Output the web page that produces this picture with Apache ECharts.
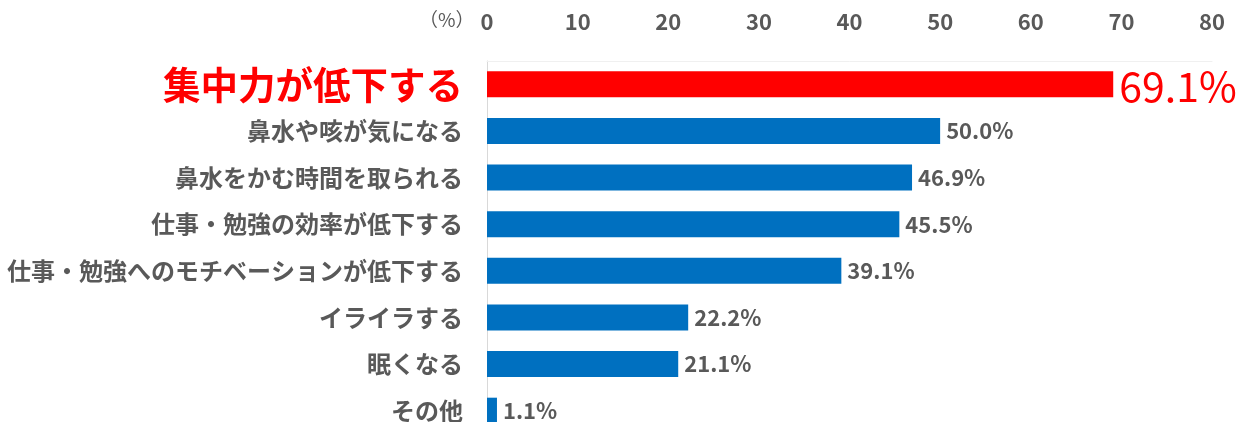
<!DOCTYPE html>
<html>
<head>
<meta charset="utf-8">
<script src="https://cdn.jsdelivr.net/npm/echarts@6/dist/echarts.min.js"></script>
<style>
html,body{margin:0;padding:0;background:#fff;}
#graph1{width:1252px;height:422px;}
</style>
</head>
<body>
<div id="graph1"></div>
<script>
var myChart1 = echarts.init(document.getElementById('graph1'));

var categories = ['集中力が低下する', '鼻水や咳が気になる', '鼻水をかむ時間を取られる', '仕事・勉強の効率が低下する',
	'仕事・勉強へのモチベーションが低下する', 'イライラする', '眠くなる', 'その他'];
var values = [69.1, 50.0, 46.9, 45.5, 39.1, 22.2, 21.1, 1.1];
var ticks = [0, 10, 20, 30, 40, 50, 60, 70, 80];

var font = '"Noto Sans CJK JP", "Noto Sans", sans-serif';

var sData = [];
for (var i = 0; i < values.length; i++) {
	if (i == 0) {
		sData.push({
			value: values[i],
			itemStyle: { color: '#FF0000' },
			label: { color: '#FF0000', fontSize: 41, fontWeight: 'normal', offset: [0, 2] }
		});
	} else {
		sData.push(values[i]);
	}
}

var option = {
	textStyle: { fontFamily: font },
	graphic: [{
		type: 'text',
		left: 419,
		top: 10,
		style: { text: '（%）', fill: '#595959', font: '19px ' + font }
	}],
	grid: {
		left: 487,
		right: 40,
		top: 61,
		height: 373,
		outerBoundsMode: 'none'
	},
	xAxis: {
		type: 'value',
		position: 'top',
		min: ticks[0],
		max: ticks[ticks.length - 1],
		interval: 10,
		axisLine: { show: true, lineStyle: { color: '#f0f0f0' } },
		axisTick: { show: false },
		splitLine: { show: false },
		axisLabel: {
			color: '#595959',
			fontSize: 22,
			fontWeight: 'bold',
			margin: 28,
			fontFamily: font
		}
	},
	yAxis: {
		type: 'category',
		inverse: true,
		data: categories,
		axisLine: { show: true, lineStyle: { color: '#d9d9d9' } },
		axisTick: { show: false },
		axisLabel: {
			margin: 24,
			fontFamily: font,
			formatter: function (v, idx) {
				return idx == 0 ? '{r|' + v + '}' : '{g|' + v + '}';
			},
			rich: {
				r: { color: '#FF0000', fontSize: 37.5, fontWeight: 'bold', fontFamily: font },
				g: { color: '#595959', fontSize: 24, fontWeight: 'bold', fontFamily: font }
			}
		}
	},
	series: {
		type: 'bar',
		data: sData,
		barWidth: 26,
		itemStyle: { color: '#0070C0' },
		label: {
			show: true,
			position: 'right',
			distance: 6,
			color: '#595959',
			fontSize: 22,
			fontWeight: 'bold',
			fontFamily: font,
			formatter: function (p) { return p.value.toFixed(1) + '%'; }
		}
	}
};
myChart1.setOption(option);
</script>
</body>
</html>
